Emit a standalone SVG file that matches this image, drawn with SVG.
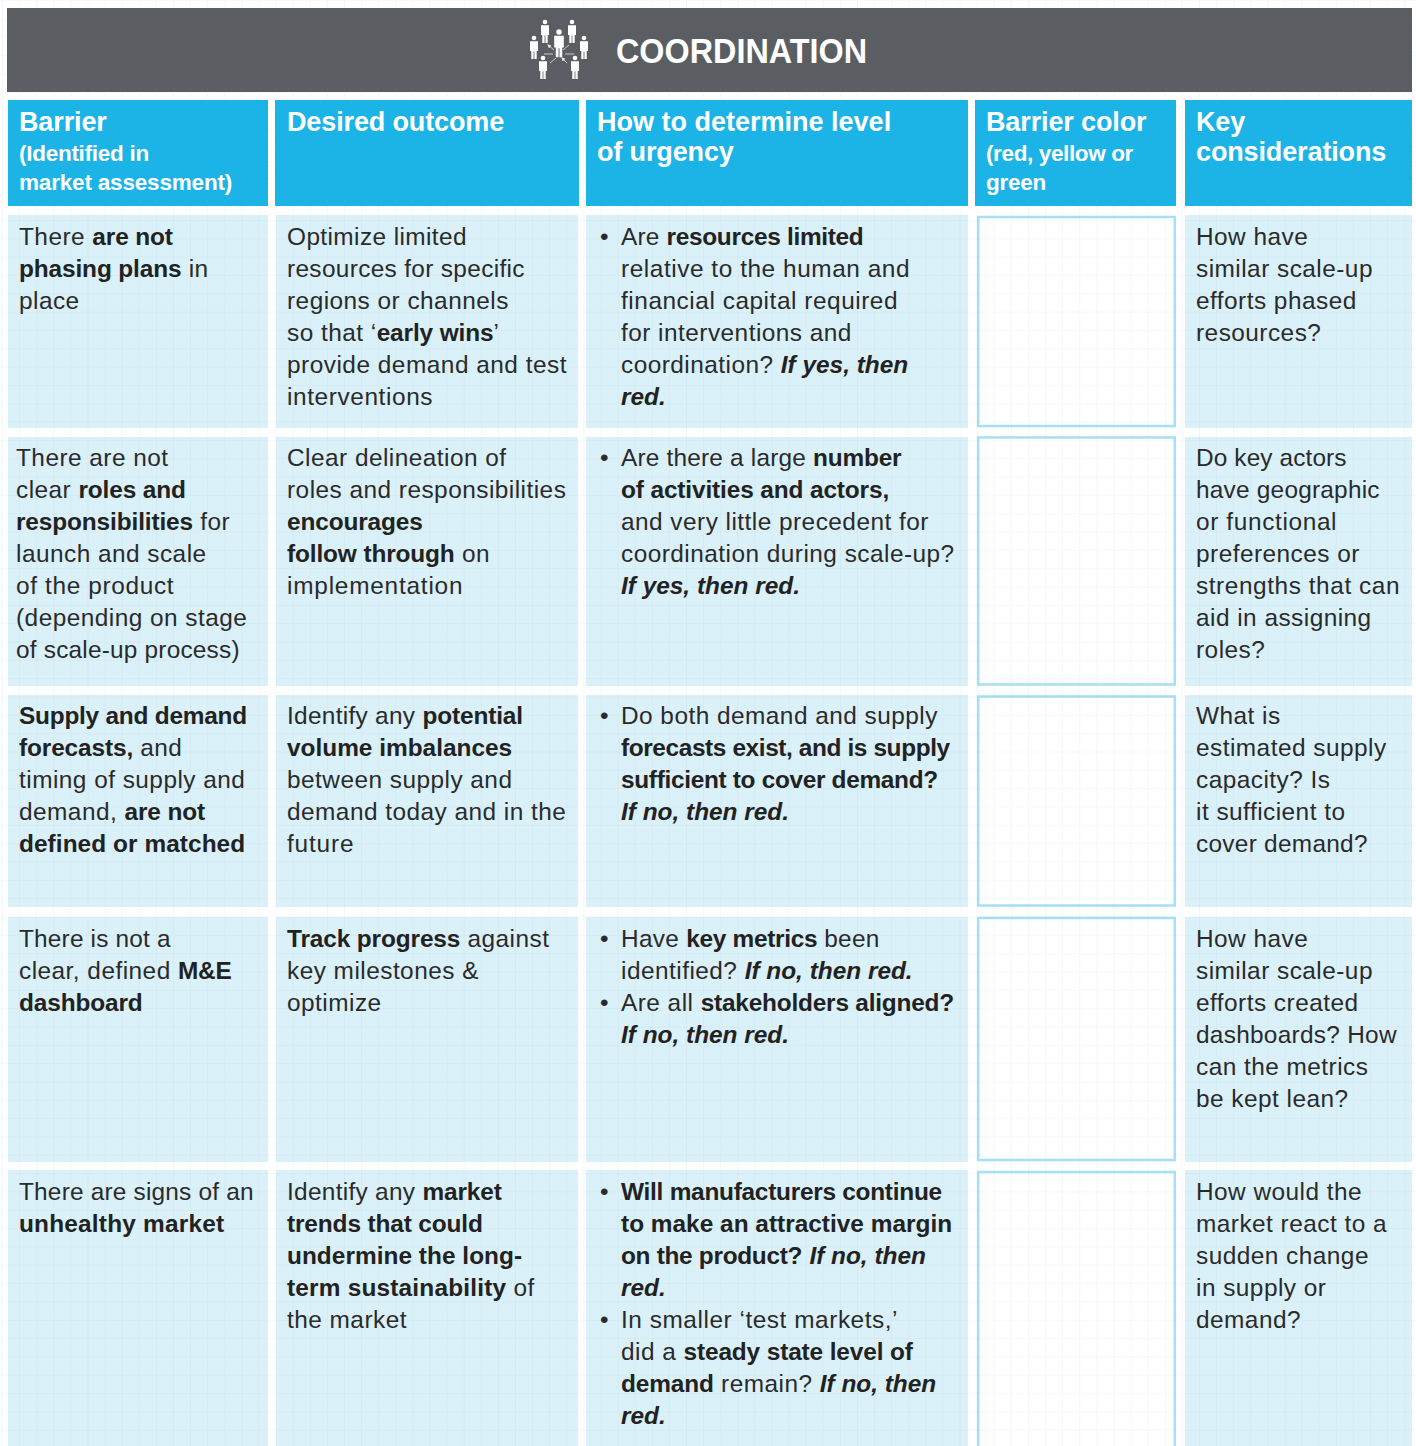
<svg xmlns="http://www.w3.org/2000/svg" width="1416" height="1446" viewBox="0 0 1416 1446">
<style>
text{font-family:"Liberation Sans",Arial,sans-serif;font-size:24.4px;fill:#2b2a2b;letter-spacing:.47px}
.b{font-weight:700;fill:#222;letter-spacing:-.12px}
.i{font-weight:700;font-style:italic;fill:#222;letter-spacing:0}
.cell{fill:#daf1f9}
.hd{fill:#1cb3e6}
.box{fill:#fff;stroke:#a5e0f4;stroke-width:2.5}
.h1{font-weight:700;font-size:27px;fill:#fff;letter-spacing:-.13px}
.h2{font-weight:700;font-size:22.5px;fill:#fff;letter-spacing:-.27px}
.title{font-weight:700;font-size:35px;fill:#fff;letter-spacing:0}
</style>
<defs>
<pattern id="g" width="17.1" height="18.33" patternUnits="userSpaceOnUse" x="2" y="0">
<path d="M0 0V18.33M0 0H17.1" fill="none" stroke="#8aa6b0" stroke-opacity=".11" stroke-width="1.6"/>
</pattern>
<g id="p"><circle cx="0" cy="0" r="2.3" fill="#fff"/><path d="M-4 3.2H4V13H2.7V21H.4V13.5H-.4V21H-2.7V13H-4Z" fill="#fff"/></g>
<marker id="ah" markerWidth="4" markerHeight="4" refX="3" refY="2" orient="auto-start-reverse" markerUnits="userSpaceOnUse"><path d="M0 0L4 2L0 4Z" fill="#e4e4e4"/></marker>
</defs>
<rect width="1416" height="1446" fill="#fff"/>
<g id="cells">
<rect class="cell" x="8" y="215" width="260" height="213"/><rect class="cell" x="276" y="215" width="302" height="213"/><rect class="cell" x="586" y="215" width="382" height="213"/><rect class="cell" x="1185" y="215" width="227" height="213"/>
<rect class="cell" x="8" y="437" width="260" height="249"/><rect class="cell" x="276" y="437" width="302" height="249"/><rect class="cell" x="586" y="437" width="382" height="249"/><rect class="cell" x="1185" y="437" width="227" height="249"/>
<rect class="cell" x="8" y="695" width="260" height="212"/><rect class="cell" x="276" y="695" width="302" height="212"/><rect class="cell" x="586" y="695" width="382" height="212"/><rect class="cell" x="1185" y="695" width="227" height="212"/>
<rect class="cell" x="8" y="917" width="260" height="245"/><rect class="cell" x="276" y="917" width="302" height="245"/><rect class="cell" x="586" y="917" width="382" height="245"/><rect class="cell" x="1185" y="917" width="227" height="245"/>
<rect class="cell" x="8" y="1170" width="260" height="276"/><rect class="cell" x="276" y="1170" width="302" height="276"/><rect class="cell" x="586" y="1170" width="382" height="276"/><rect class="cell" x="1185" y="1170" width="227" height="276"/>
</g>
<g id="colorboxes">
<rect class="box" x="978.2" y="217" width="196.6" height="209"/>
<rect class="box" x="978.2" y="437.5" width="196.6" height="247"/>
<rect class="box" x="978.2" y="696.5" width="196.6" height="209"/>
<rect class="box" x="978.2" y="918" width="196.6" height="242"/>
<rect class="box" x="978.2" y="1172" width="196.6" height="280"/>
</g>
<rect id="grid" width="1416" height="1446" fill="url(#g)"/>
<g id="titlebar">
<rect x="7" y="8" width="1405" height="84" fill="#5a5e62"/>
<g id="icon">
<use href="#p" x="545" y="22"/><use href="#p" x="572" y="22"/><use href="#p" transform="translate(559 32) scale(1.2)"/><use href="#p" x="534" y="38"/><use href="#p" x="584" y="38"/><use href="#p" x="543" y="58"/><use href="#p" x="575" y="58"/>
<path d="M548 45L554 50M569 45L563 50M544 54H553M565 54H574M550 63L556 58M567 63L562 58" stroke="#e4e4e4" stroke-width=".8" fill="none" marker-start="url(#ah)" marker-end="url(#ah)"/>
</g>
<text class="title" x="616" y="63" textLength="251" lengthAdjust="spacingAndGlyphs">COORDINATION</text>
</g>
<g id="headers">
<rect class="hd" x="8" y="100" width="260" height="106"/><rect class="hd" x="275" y="100" width="304" height="106"/><rect class="hd" x="586" y="100" width="382" height="106"/><rect class="hd" x="975" y="100" width="201" height="106"/><rect class="hd" x="1185" y="100" width="227" height="106"/>
<text class="h1" x="19" y="131">Barrier</text><text class="h2" x="19" y="161">(Identified in</text><text class="h2" x="19" y="190" textLength="213">market assessment)</text>
<text class="h1" x="287" y="131">Desired outcome</text>
<text class="h1" x="597" y="131" textLength="294">How to determine level</text><text class="h1" x="597" y="161">of urgency</text>
<text class="h1" x="986" y="131">Barrier color</text><text class="h2" x="986" y="161" textLength="147">(red, yellow or</text><text class="h2" x="986" y="190">green</text>
<text class="h1" x="1196" y="131">Key</text><text class="h1" x="1196" y="161">considerations</text>
</g>
<g id="row1">
<text x="19" y="245">There <tspan class="b">are not</tspan></text><text x="19" y="277"><tspan class="b">phasing plans</tspan> in</text><text x="19" y="309">place</text>
<text x="287" y="245" textLength="180">Optimize limited</text><text x="287" y="277" textLength="238">resources for specific</text><text x="287" y="309">regions or channels</text><text x="287" y="341">so that ‘<tspan class="b">early wins</tspan>’</text><text x="287" y="373" textLength="280">provide demand and test</text><text x="287" y="405" textLength="146">interventions</text>
<text x="600" y="245">•</text><text x="621" y="245" style="letter-spacing:.2px">Are <tspan class="b" style="letter-spacing:-.3px">resources limited</tspan></text><text x="621" y="277" textLength="289">relative to the human and</text><text x="621" y="309" textLength="277">financial capital required</text><text x="621" y="341">for interventions and</text><text x="621" y="373">coordination? <tspan class="i">If yes, then</tspan></text><text x="621" y="405" class="i">red.</text>
<text x="1196" y="245">How have</text><text x="1196" y="277">similar scale-up</text><text x="1196" y="309">efforts phased</text><text x="1196" y="341">resources?</text>
</g>
<g id="row2">
<text x="16" y="466">There are not</text><text x="16" y="498">clear <tspan class="b">roles and</tspan></text><text x="16" y="530"><tspan class="b">responsibilities</tspan> for</text><text x="16" y="562">launch and scale</text><text x="16" y="594" textLength="158">of the product</text><text x="16" y="626">(depending on stage</text><text x="16" y="658" textLength="224">of scale-up process)</text>
<text x="287" y="466">Clear delineation of</text><text x="287" y="498">roles and responsibilities</text><text x="287" y="530" class="b">encourages</text><text x="287" y="562"><tspan class="b">follow through</tspan> on</text><text x="287" y="594" textLength="176">implementation</text>
<text x="600" y="466">•</text><text x="621" y="466" style="letter-spacing:.2px">Are there a large <tspan class="b" style="letter-spacing:-.2px">number</tspan></text><text x="621" y="498" class="b">of activities and actors,</text><text x="621" y="530">and very little precedent for</text><text x="621" y="562">coordination during scale-up?</text><text x="621" y="594" class="i">If yes, then red.</text>
<text x="1196" y="466" textLength="151">Do key actors</text><text x="1196" y="498" textLength="184">have geographic</text><text x="1196" y="530" textLength="141">or functional</text><text x="1196" y="562">preferences or</text><text x="1196" y="594" textLength="204">strengths that can</text><text x="1196" y="626">aid in assigning</text><text x="1196" y="658">roles?</text>
</g>
<g id="row3">
<text x="19" y="724" class="b" textLength="228">Supply and demand</text><text x="19" y="756"><tspan class="b">forecasts,</tspan> and</text><text x="19" y="788">timing of supply and</text><text x="19" y="820">demand, <tspan class="b">are not</tspan></text><text x="19" y="852" class="b" textLength="226">defined or matched</text>
<text x="287" y="724" style="letter-spacing:.3px">Identify any <tspan class="b">potential</tspan></text><text x="287" y="756" class="b" textLength="225">volume imbalances</text><text x="287" y="788">between supply and</text><text x="287" y="820">demand today and in the</text><text x="287" y="852" textLength="67">future</text>
<text x="600" y="724">•</text><text x="621" y="724">Do both demand and supply</text><text x="621" y="756" class="b" textLength="329">forecasts exist, and is supply</text><text x="621" y="788" class="b" textLength="317">sufficient to cover demand?</text><text x="621" y="820" class="i">If no, then red.</text>
<text x="1196" y="724">What is</text><text x="1196" y="756">estimated supply</text><text x="1196" y="788">capacity? Is</text><text x="1196" y="820">it sufficient to</text><text x="1196" y="852" textLength="172">cover demand?</text>
</g>
<g id="row4">
<text x="19" y="947" textLength="152">There is not a</text><text x="19" y="979">clear, defined <tspan class="b">M&amp;E</tspan></text><text x="19" y="1011" class="b">dashboard</text>
<text x="287" y="947"><tspan class="b">Track progress</tspan> against</text><text x="287" y="979">key milestones &amp;</text><text x="287" y="1011">optimize</text>
<text x="600" y="947">•</text><text x="621" y="947" style="letter-spacing:.3px">Have <tspan class="b" style="letter-spacing:-.3px">key metrics</tspan> been</text><text x="621" y="979">identified? <tspan class="i">If no, then red.</tspan></text><text x="600" y="1011">•</text><text x="621" y="1011">Are all <tspan class="b" style="letter-spacing:-.2px">stakeholders aligned?</tspan></text><text x="621" y="1043" class="i">If no, then red.</text>
<text x="1196" y="947">How have</text><text x="1196" y="979">similar scale-up</text><text x="1196" y="1011">efforts created</text><text x="1196" y="1043" textLength="201">dashboards? How</text><text x="1196" y="1075">can the metrics</text><text x="1196" y="1107">be kept lean?</text>
</g>
<g id="row5">
<text x="19" y="1200" textLength="235">There are signs of an</text><text x="19" y="1232" class="b" textLength="205">unhealthy market</text>
<text x="287" y="1200" style="letter-spacing:.3px">Identify any <tspan class="b">market</tspan></text><text x="287" y="1232" class="b">trends that could</text><text x="287" y="1264" class="b" textLength="235">undermine the long-</text><text x="287" y="1296"><tspan class="b" style="letter-spacing:.2px">term sustainability</tspan> of</text><text x="287" y="1328">the market</text>
<text x="600" y="1200">•</text><text x="621" y="1200" class="b" textLength="321">Will manufacturers continue</text><text x="621" y="1232" class="b" textLength="331">to make an attractive margin</text><text x="621" y="1264"><tspan class="b" style="letter-spacing:-.3px">on the product?</tspan> <tspan class="i">If no, then</tspan></text><text x="621" y="1296" class="i">red.</text><text x="600" y="1328">•</text><text x="621" y="1328" textLength="277">In smaller ‘test markets,’</text><text x="621" y="1360">did a <tspan class="b">steady state level of</tspan></text><text x="621" y="1392"><tspan class="b">demand</tspan> remain? <tspan class="i">If no, then</tspan></text><text x="621" y="1424" class="i">red.</text>
<text x="1196" y="1200">How would the</text><text x="1196" y="1232">market react to a</text><text x="1196" y="1264">sudden change</text><text x="1196" y="1296">in supply or</text><text x="1196" y="1328">demand?</text>
</g>
</svg>
